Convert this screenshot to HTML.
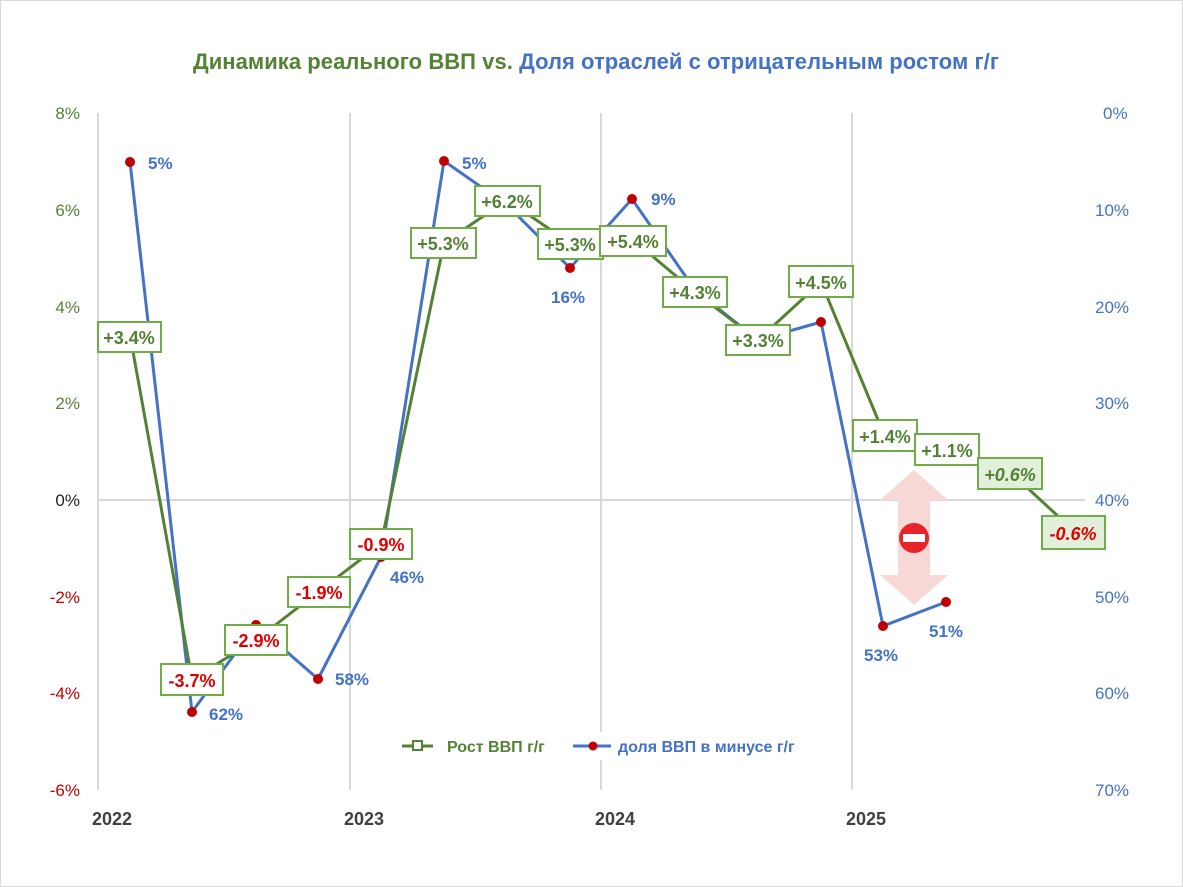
<!DOCTYPE html>
<html><head><meta charset="utf-8"><style>
html,body{margin:0;padding:0;background:#fff}
svg{display:block;font-family:"Liberation Sans","DejaVu Sans",sans-serif}
</style></head><body>
<svg width="1183" height="887" viewBox="0 0 1183 887" xmlns="http://www.w3.org/2000/svg">
<rect x="0.5" y="0.5" width="1182" height="886" fill="#fff" stroke="#d9d9d9"/>
<text x="596" y="69" text-anchor="middle" font-size="22" font-weight="bold" textLength="806"><tspan fill="#548235">Динамика реального ВВП vs. </tspan><tspan fill="#4472c4">Доля отраслей с отрицательным ростом г/г</tspan></text>
<g stroke="#d9d9d9" stroke-width="2">
<line x1="98" y1="113" x2="98" y2="790"/><line x1="350" y1="113" x2="350" y2="790"/>
<line x1="601" y1="113" x2="601" y2="790"/><line x1="852" y1="113" x2="852" y2="790"/>
<line x1="98" y1="500" x2="1085" y2="500"/>
</g>
<rect x="395" y="732" width="440" height="28" fill="#fff"/>
<g font-size="17" text-anchor="end">
<text x="80" y="119" fill="#548235">8%</text><text x="80" y="216" fill="#548235">6%</text>
<text x="80" y="313" fill="#548235">4%</text><text x="80" y="409" fill="#548235">2%</text>
<text x="80" y="506" fill="#222">0%</text><text x="80" y="603" fill="#c00000">-2%</text>
<text x="80" y="699" fill="#c00000">-4%</text><text x="80" y="796" fill="#c00000">-6%</text>
</g>
<g font-size="17" fill="#4472c4">
<text x="1103" y="119">0%</text><text x="1095" y="216">10%</text><text x="1095" y="313">20%</text>
<text x="1095" y="409">30%</text><text x="1095" y="506">40%</text><text x="1095" y="603">50%</text>
<text x="1095" y="699">60%</text><text x="1095" y="796">70%</text>
</g>
<g font-size="18" font-weight="bold" fill="#404040" text-anchor="middle">
<text x="112" y="825">2022</text><text x="364" y="825">2023</text><text x="615" y="825">2024</text><text x="866" y="825">2025</text>
</g>
<g fill="#f8d7d7">
<polygon points="914,470 948,500 930,500 930,575 948,575 914,605 880,575 898,575 898,500 880,500"/>
</g>
<circle cx="914" cy="538" r="15" fill="#e8232a"/>
<rect x="903" y="534" width="22" height="8" fill="#fff"/>
<polyline fill="none" stroke="#4472c4" stroke-width="3" stroke-linejoin="round" points="130,162 192,712 256,625 318,679 381,557 444,161 507,205 570,268 632,199 695,290 758,340 821,322 883,626 946,602"/>
<g fill="#c00000">
<circle cx="130" cy="162" r="5"/><circle cx="192" cy="712" r="5"/><circle cx="256" cy="625" r="5"/><circle cx="318" cy="679" r="5"/><circle cx="381" cy="557" r="5"/><circle cx="444" cy="161" r="5"/><circle cx="570" cy="268" r="5"/><circle cx="632" cy="199" r="5"/><circle cx="821" cy="322" r="5"/><circle cx="883" cy="626" r="5"/><circle cx="946" cy="602" r="5"/>
</g>
<g font-size="17" font-weight="bold" fill="#4472c4">
<text x="148" y="169">5%</text><text x="209" y="720">62%</text><text x="335" y="685">58%</text>
<text x="390" y="583">46%</text><text x="462" y="169">5%</text><text x="551" y="303">16%</text>
<text x="651" y="205">9%</text><text x="864" y="661">53%</text><text x="929" y="637">51%</text>
</g>
<polyline fill="none" stroke="#548235" stroke-width="3" stroke-linejoin="round" points="130,335 192,679 256,640 318,592 381,544 444,243 507,200 570,243 632,239 695,292 758,340 821,282 883,432 946,447 1009,471 1072,529"/>
<g font-size="18" font-weight="bold" text-anchor="middle" stroke-width="2">
<g stroke="#70ad47" fill="#fff">
<rect x="98" y="322" width="63" height="30"/><rect x="161" y="664" width="62" height="31"/>
<rect x="225" y="625" width="62" height="30"/><rect x="288" y="577" width="62" height="30"/>
<rect x="350" y="529" width="62" height="30"/><rect x="411" y="228" width="65" height="30"/>
<rect x="475" y="186" width="65" height="30"/><rect x="538" y="229" width="65" height="30"/>
<rect x="600" y="226" width="66" height="30"/><rect x="663" y="277" width="64" height="30"/>
<rect x="726" y="325" width="64" height="30"/><rect x="789" y="266" width="64" height="31"/>
<rect x="853" y="420" width="64" height="31"/><rect x="915" y="434" width="64" height="31"/>
</g>
<g stroke="#70ad47" fill="#e2efda">
<rect x="978" y="458" width="64" height="31"/><rect x="1042" y="516" width="63" height="33"/>
</g>
<g fill="#548235">
<text x="129" y="344">+3.4%</text><text x="443" y="250">+5.3%</text><text x="507" y="208">+6.2%</text>
<text x="570" y="251">+5.3%</text><text x="633" y="248">+5.4%</text><text x="695" y="299">+4.3%</text>
<text x="758" y="347">+3.3%</text><text x="821" y="289">+4.5%</text><text x="885" y="443">+1.4%</text>
<text x="947" y="457">+1.1%</text><text x="1010" y="481" font-style="italic">+0.6%</text>
</g>
<g fill="#e00000">
<text x="192" y="687">-3.7%</text><text x="256" y="647">-2.9%</text><text x="319" y="599">-1.9%</text>
<text x="381" y="551">-0.9%</text><text x="1073" y="540" font-style="italic">-0.6%</text>
</g>
</g>
<line x1="402" y1="746" x2="433" y2="746" stroke="#548235" stroke-width="3"/>
<rect x="413" y="741" width="9" height="9" fill="#fff" stroke="#548235" stroke-width="2"/>
<text x="447" y="752" font-size="16" font-weight="bold" fill="#548235">Рост ВВП г/г</text>
<line x1="573" y1="746" x2="611" y2="746" stroke="#4472c4" stroke-width="3"/>
<circle cx="593" cy="746" r="4.5" fill="#c00000"/>
<text x="618" y="752" font-size="16" font-weight="bold" fill="#4472c4">доля ВВП в минусе г/г</text>
</svg>
</body></html>
